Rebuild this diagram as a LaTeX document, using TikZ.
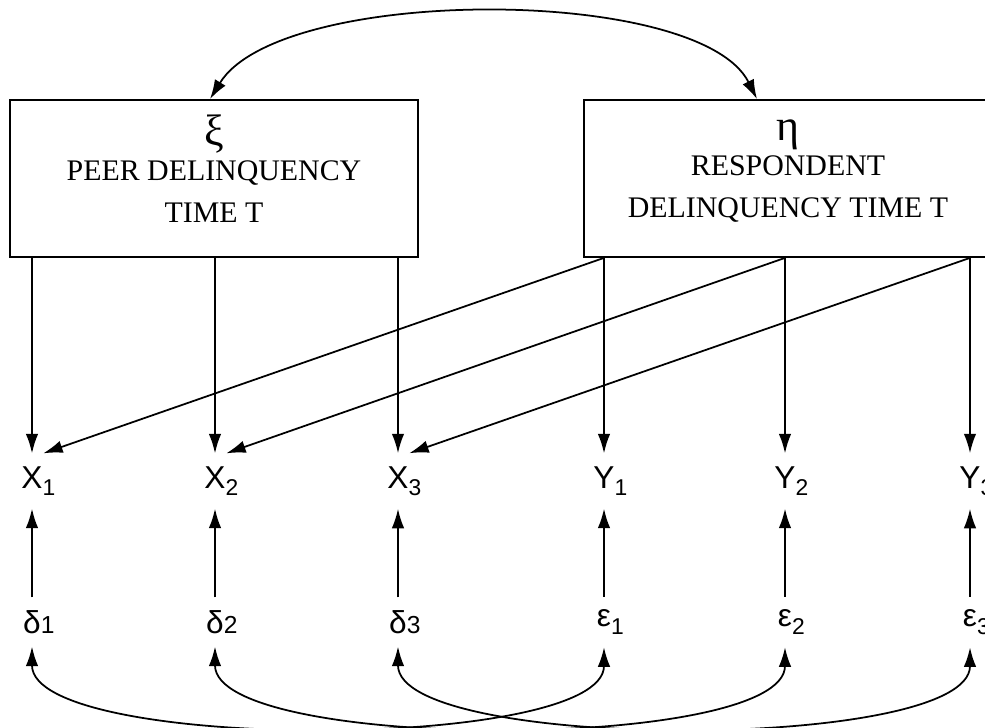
\documentclass[tikz,border=0pt]{standalone}
\usepackage{fontspec}
\setmainfont{Liberation Serif}
\newfontfamily\labfont{Liberation Sans}
\usetikzlibrary{arrows.meta}

% small digit after a label, kept out of the node width
\newcommand{\lsub}[1]{\rlap{\raisebox{-0.45ex}{\fontsize{13}{13}\selectfont #1}}}
\newcommand{\dsub}[1]{\rlap{\fontsize{14}{14}\selectfont #1}}
\newcommand{\greek}[1]{{\fontsize{25}{25}\selectfont #1}}

\begin{document}
\begin{tikzpicture}[x=0.2mm,y=-0.2mm,
    latent/.style={draw,line width=1pt,minimum width=81.6mm,minimum height=31.4mm,
                   align=center,font=\fontsize{17}{24}\selectfont},
    obs/.style={font=\labfont\fontsize{18}{18}\selectfont,inner sep=0pt,outer sep=2.6mm},
    arr/.style={-{Latex[length=3.9mm,width=2.5mm]},line width=1pt},
    twoway/.style={{Latex[length=3.9mm,width=2.5mm]}-{Latex[length=3.9mm,width=2.5mm]},line width=1pt}]
\useasboundingbox (0,0) rectangle (985,728);

% latent variables
\node[latent] (xi) at (214,178.5) {\greek{ξ}\\[-1.5mm]PEER DELINQUENCY\\TIME T\\[-4.5mm]\mbox{}};
\node[latent] (eta) at (788,178.5) {\greek{η}\\[-1.5mm]RESPONDENT\\DELINQUENCY TIME T\\[-4.5mm]\mbox{}};

% indicators
\node[obs] (x1) at (32,481) {X\lsub{1}};
\node[obs] (x2) at (215,481) {X\lsub{2}};
\node[obs] (x3) at (398,481) {X\lsub{3}};
\node[obs] (y1) at (604,481) {Y\lsub{1}};
\node[obs] (y2) at (785,481) {Y\lsub{2}};
\node[obs] (y3) at (970,481) {Y\lsub{3}};

% errors
\node[obs] (d1) at (32,622) {δ\dsub{1}};
\node[obs] (d2) at (215,622) {δ\dsub{2}};
\node[obs] (d3) at (398,622) {δ\dsub{3}};
\node[obs] (e1) at (604,622) {ε\lsub{1}};
\node[obs] (e2) at (785,622) {ε\lsub{2}};
\node[obs] (e3) at (970,622) {ε\lsub{3}};

% covariance of the latents
\draw[twoway] ([xshift=-0.8mm]xi.north) .. controls (280,-15) and (700,-15) .. ([xshift=-6.2mm]eta.north);

% loadings
\foreach \n in {x1,x2,x3}
    \draw[arr] (xi.south -| \n) -- (\n.north);
\foreach \n in {y1,y2,y3}
    \draw[arr] (eta.south -| \n) -- (\n.north);
\draw[arr] (eta.south -| y1) -- (x1.68);
\draw[arr] (eta.south -| y2) -- (x2.68);
\draw[arr] (eta.south -| y3) -- (x3.68);

% errors to indicators
\foreach \e/\n in {d1/x1,d2/x2,d3/x3,e1/y1,e2/y2,e3/y3}
    \draw[arr] (\e.north) -- (\n.south);

% error covariances
\draw[twoway] (d1.south) .. controls (32,752) and (604,752) .. (e1.south);
\draw[twoway] (d2.south) .. controls (215,752) and (785,752) .. (e2.south);
\draw[twoway] (d3.south) .. controls (398,752) and (970,752) .. (e3.south);
\end{tikzpicture}
\end{document}
